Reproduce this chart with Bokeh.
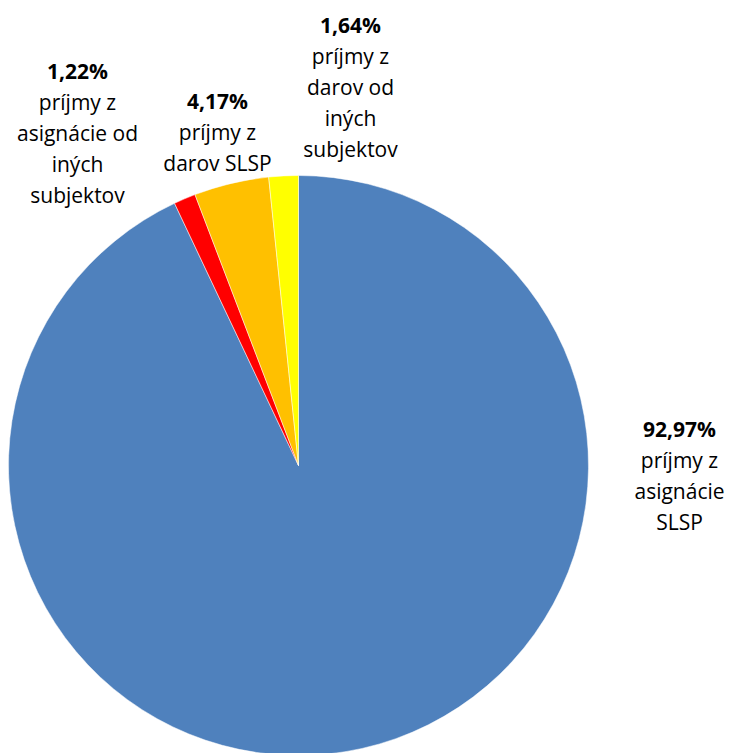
import math
from bokeh.plotting import figure
from bokeh.models import Range1d, ColumnDataSource
from bokeh.core.properties import value
from bokeh.embed import file_html
from bokeh.resources import INLINE

# ---- data ----
categories = ["príjmy z\nasignácie\nSLSP",
              "príjmy z\nasignácie od\niných\nsubjektov",
              "príjmy z\ndarov SLSP",
              "príjmy z\ndarov od\niných\nsubjektov"]
values = [92.97, 1.22, 4.17, 1.64]
colors = ["#4F81BD", "#FF0000", "#FFC000", "#FFFF00"]

# ---- layout (pixel-like coordinates, y up) ----
W, H = 733, 753
cx, cy, R = 298, -465, 290
label_pos = [(679, -428), (77, -70), (217, -100), (350, -24)]
spacing = 31
FONT = "Open Sans"
FSIZE = "21px"

p = figure(width=W, height=H, output_backend="svg", toolbar_location=None,
           x_range=Range1d(0, W), y_range=Range1d(-H, 0))
p.axis.visible = False
p.grid.visible = False
p.outline_line_color = None
p.min_border = 0
p.background_fill_color = "white"

total = sum(values)
starts, ends = [], []
cum = 0.0
for v in values:
    starts.append(math.pi / 2 - 2 * math.pi * cum / total)
    cum += v
    ends.append(math.pi / 2 - 2 * math.pi * cum / total)

src = ColumnDataSource(dict(x=[cx] * len(values), y=[cy] * len(values),
                            start=starts, end=ends, color=colors))
p.wedge(x="x", y="y", radius=R, start_angle="start", end_angle="end",
        direction="clock", fill_color="color", line_color="white",
        line_width=0.5, source=src)

# labels
pct_x, pct_y, pct_t = [], [], []
cat_x, cat_y, cat_t = [], [], []
for v, c, (lx, ly) in zip(values, categories, label_pos):
    pct_x.append(lx)
    pct_y.append(ly)
    pct_t.append(f"{v:.2f}".replace(".", ",") + "%")
    for i, line in enumerate(c.split("\n")):
        cat_x.append(lx)
        cat_y.append(ly - (i + 1) * spacing)
        cat_t.append(line)

p.text(x=pct_x, y=pct_y, text=pct_t, text_font=value(FONT),
       text_font_size=FSIZE, text_font_style="bold", text_align="center",
       text_baseline="middle", text_color="#000000")
p.text(x=cat_x, y=cat_y, text=cat_t, text_font=value(FONT),
       text_font_size=FSIZE, text_align="center",
       text_baseline="middle", text_color="#000000")

open("out.html", "w").write(file_html(p, INLINE))
